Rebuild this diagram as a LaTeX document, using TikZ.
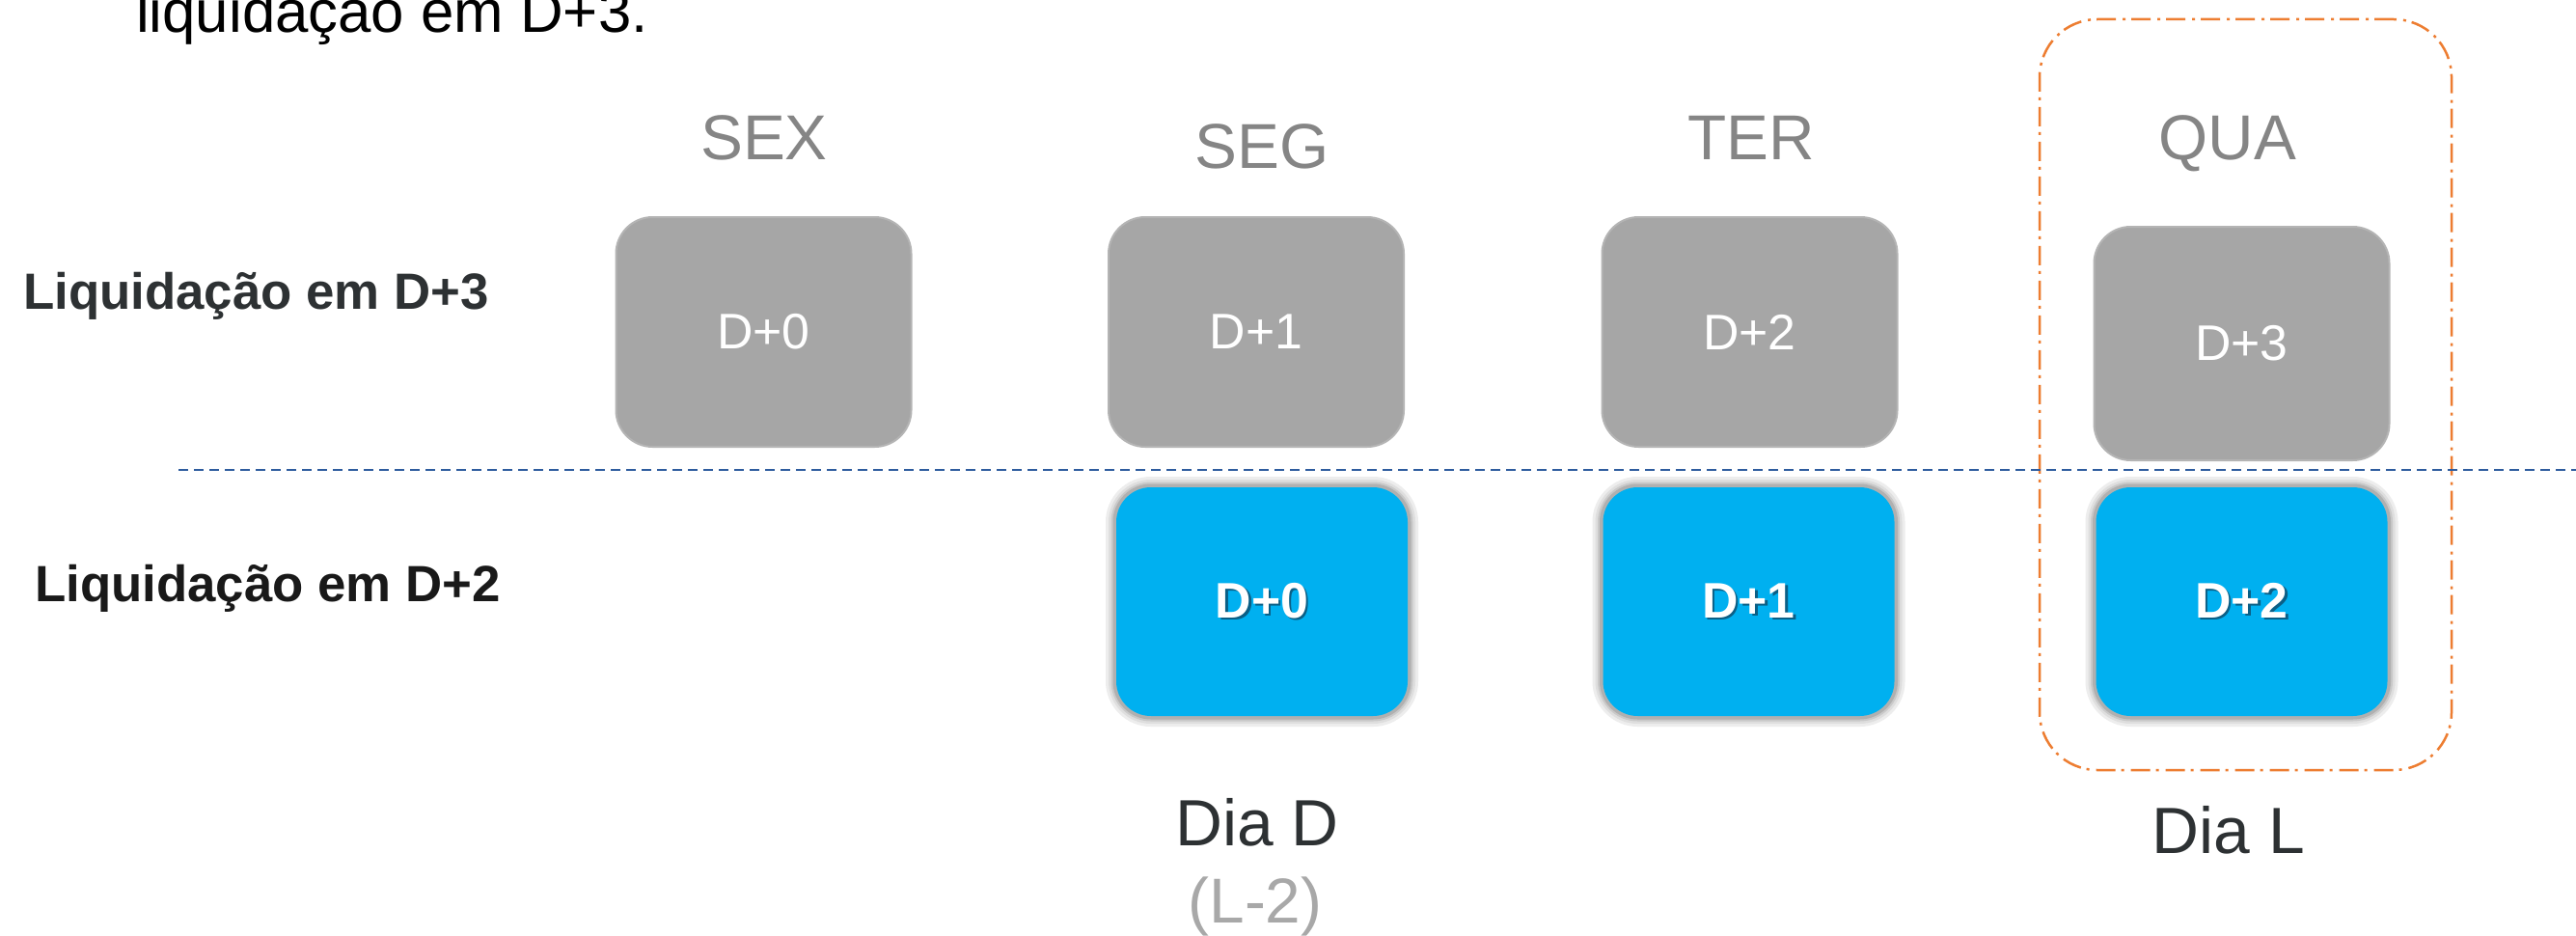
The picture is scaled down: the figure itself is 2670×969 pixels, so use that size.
\documentclass[tikz,border=0pt]{standalone}
\usepackage{fontspec}
\setmainfont{Liberation Sans}
\definecolor{graybox}{HTML}{A6A6A6}
\definecolor{grayedge}{HTML}{B4B4B4}
\definecolor{bluebox}{HTML}{00B0F0}
\definecolor{blueshadow}{HTML}{0B5F86}
\definecolor{daygray}{HTML}{858585}
\definecolor{darktext}{HTML}{2D3133}
\definecolor{sepblue}{HTML}{2E5C9E}
\definecolor{frameorange}{HTML}{ED7D31}
\definecolor{lgray}{HTML}{A8A8A8}
\newcommand{\shtext}[1]{\makebox[0pt][l]{\raisebox{-2.5bp}{\hspace{2.5bp}\textcolor{blueshadow}{#1}}}#1}
\begin{document}
\begin{tikzpicture}[x=1bp,y=-1bp,
  graybx/.style={draw=grayedge, line width=2bp, fill=graybox, rounded corners=38bp,
    minimum width=306bp, minimum height=238bp, inner sep=0pt, text=white,
    font=\fontsize{52}{60}\selectfont},
  bluebx/.style={fill=bluebox, rounded corners=36bp, minimum width=302bp,
    minimum height=237bp, inner sep=0pt, text=white,
    font=\bfseries\fontsize{52}{60}\selectfont,
    preaction={draw=black!7, line width=22bp},
    preaction={draw=black!13, line width=16bp},
    preaction={draw=black!21, line width=11bp},
    preaction={draw=black!31, line width=7bp}},
  daylbl/.style={text=daygray, font=\fontsize{66}{72}\selectfont, inner sep=0pt, anchor=base},
  rowlbl/.style={font=\bfseries\fontsize{53}{60}\selectfont, inner sep=0pt, anchor=base west},
  bottomlbl/.style={font=\fontsize{68}{74}\selectfont, inner sep=0pt, anchor=base, text=darktext},
  framebx/.style={draw=frameorange, line width=2.5bp, dash pattern=on 20bp off 6bp on 3bp off 7bp,
    rounded corners=60bp, minimum width=427bp, minimum height=778bp, inner sep=0pt},
  sepline/.style={draw=sepblue, line width=2.5bp, dash pattern=on 10bp off 6bp}
]
\useasboundingbox[fill=white] (0,0) rectangle (2670,969);

% top text (cut off by the top edge)
\node[anchor=base west, inner sep=0pt, font=\fontsize{62}{68}\selectfont] (toptxt) at (141,33) {liquidação em D+3.};

% frame around Wednesday
\node[framebx] (frame) at (2327.5,409) {};

% separator
\coordinate (s0) at (185,487);
\coordinate (s1) at (2670,487);
\draw[sepline] (s0) -- (s1);

% day labels
\node[daylbl] (sex) at (792,165) {SEX};
\node[daylbl] (seg) at (1308,174) {SEG};
\node[daylbl] (ter) at (1815,165) {TER};
\node[daylbl] (qua) at (2309,165) {QUA};

% row labels
\node[rowlbl, text=darktext] (r3) at (24,320) {Liquidação em D+3};
\node[rowlbl, text=black!90] (r2) at (36,623) {Liquidação em D+2};

% gray boxes
\node[graybx] (g0) at (791.5,344) {D+0};
\node[graybx] (g1) at (1302,344) {D+1};
\node[graybx] (g2) at (1813.5,344) {D+2};
\node[graybx, minimum height=242bp] (g3) at (2323.5,356) {D+3};

% blue boxes
\node[bluebx] (b0) at (1308,623.5) {\shtext{D+0}};
\node[bluebx] (b1) at (1812.5,623.5) {\shtext{D+1}};
\node[bluebx] (b2) at (2323.5,623.5) {\shtext{D+2}};

% bottom labels
\node[bottomlbl] (diad) at (1303,876) {Dia D};
\node[bottomlbl, text=lgray, font=\fontsize{66}{72}\selectfont] (l2) at (1301,956) {(L-2)};
\node[bottomlbl] (dial) at (2310,884) {Dia L};
\end{tikzpicture}
\end{document}
